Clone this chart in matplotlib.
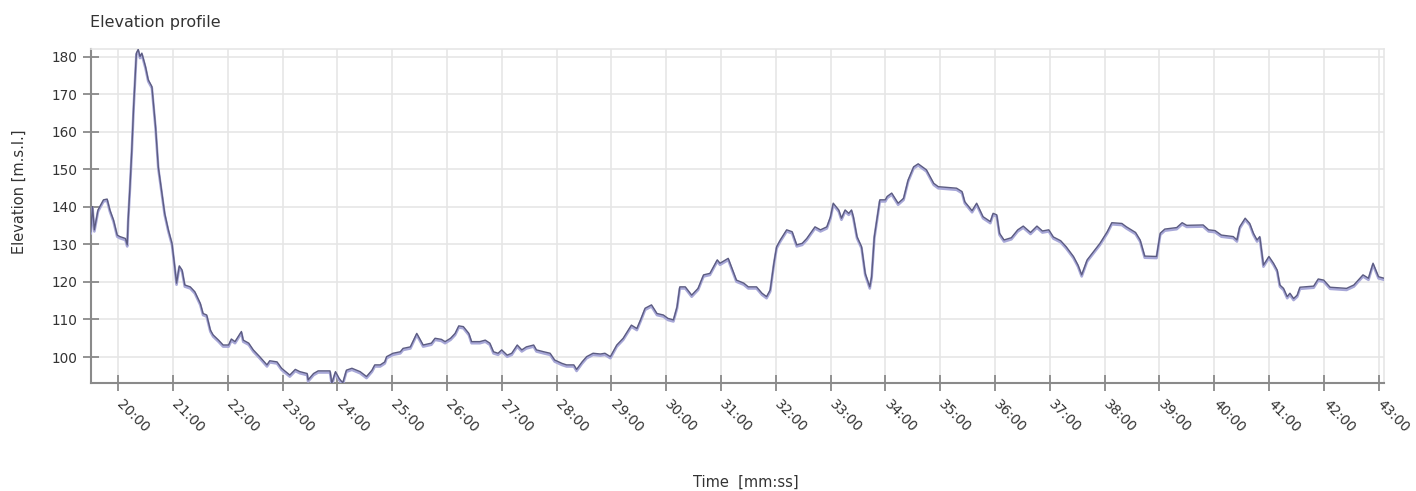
import matplotlib
matplotlib.use("Agg")
import matplotlib.pyplot as plt
import matplotlib.transforms as mtransforms
from matplotlib.ticker import MultipleLocator, FuncFormatter

plt.rcParams['font.family'] = ['DejaVu Sans']

# Elapsed time (seconds) and elevation (m above sea level)
time_s = [
    1170, 1172, 1174, 1178, 1184, 1188, 1191, 1195, 1199, 1202, 1208, 1210,
    1211, 1213, 1215, 1217, 1219, 1220, 1222, 1224, 1226, 1230, 1233, 1237,
    1241, 1244, 1248, 1251, 1255, 1259, 1262, 1264, 1267, 1270, 1273, 1279,
    1284, 1290, 1293, 1297, 1301, 1304, 1310, 1315, 1321, 1324, 1328, 1335,
    1337, 1343, 1348, 1355, 1363, 1366, 1374, 1379, 1388, 1394, 1399, 1407,
    1408, 1414, 1419, 1432, 1434, 1438, 1442, 1446, 1450, 1456, 1465, 1472,
    1478, 1481, 1487, 1492, 1494, 1501, 1509, 1512, 1520, 1527, 1534, 1543,
    1547, 1554, 1558, 1564, 1569, 1573, 1578, 1584, 1587, 1596, 1602, 1607,
    1611, 1616, 1620, 1626, 1631, 1637, 1642, 1647, 1655, 1658, 1666, 1673,
    1678, 1686, 1691, 1699, 1702, 1708, 1713, 1720, 1728, 1733, 1739, 1746,
    1753, 1762, 1768, 1772, 1777, 1784, 1790, 1797, 1802, 1808, 1812, 1815,
    1821, 1828, 1835, 1841, 1848, 1856, 1859, 1868, 1877, 1885, 1890, 1899,
    1905, 1910, 1914, 1918, 1921, 1925, 1932, 1938, 1943, 1949, 1954, 1963,
    1969, 1976, 1980, 1983, 1989, 1992, 1996, 2000, 2003, 2005, 2009, 2014,
    2018, 2023, 2025, 2028, 2034, 2040, 2042, 2047, 2054, 2060, 2065, 2071,
    2076, 2085, 2093, 2098, 2118, 2124, 2127, 2135, 2140, 2147, 2155, 2158,
    2162, 2165, 2170, 2178, 2185, 2191, 2199, 2206, 2212, 2219, 2224, 2232,
    2238, 2246, 2251, 2255, 2261, 2268, 2275, 2283, 2288, 2299, 2304, 2314,
    2319, 2324, 2337, 2341, 2346, 2359, 2365, 2370, 2388, 2394, 2401, 2408,
    2421, 2425, 2428, 2434, 2439, 2443, 2447, 2450, 2454, 2460, 2465, 2469,
    2472, 2476, 2480, 2483, 2487, 2491, 2494, 2509, 2514, 2520, 2527, 2545,
    2553, 2563, 2569, 2574, 2580, 2586,
]

elevation_m = [
    133.4, 140.1, 133.9, 139.2, 141.9, 142.1, 139.2, 136.5, 132.5, 132.1, 131.6, 129.9,
    136.5, 145.4, 155.2, 166.7, 176.5, 181.0, 182.0, 180.1, 181.0, 177.4, 173.9, 172.1,
    161.4, 150.7, 143.7, 138.3, 133.9, 130.3, 124.1, 119.7, 124.3, 123.2, 119.2, 118.7,
    117.4, 114.3, 111.6, 111.2, 107.2, 105.9, 104.5, 103.2, 103.2, 104.8, 104.1, 106.8,
    104.5, 103.7, 101.9, 100.1, 97.9, 99.0, 98.7, 97.0, 95.2, 96.7, 96.1, 95.6,
    93.9, 95.6, 96.3, 96.3, 93.0, 96.1, 94.3, 93.1, 96.5, 97.0, 96.1, 94.8,
    96.5, 97.9, 97.9, 98.7, 100.1, 101.0, 101.4, 102.3, 102.7, 106.3, 103.2, 103.7,
    105.0, 104.7, 104.1, 105.0, 106.3, 108.3, 108.1, 106.3, 104.1, 104.1, 104.5, 103.7,
    101.4, 101.0, 101.9, 100.5, 101.0, 103.2, 101.9, 102.7, 103.2, 101.9, 101.4, 101.0,
    99.2, 98.3, 97.9, 97.9, 96.7, 98.7, 100.1, 101.0, 100.8, 101.0, 100.1, 103.2,
    105.0, 108.5, 107.6, 109.9, 113.0, 113.9, 111.6, 111.2, 110.3, 109.9, 113.4, 118.7,
    118.7, 116.5, 118.3, 121.9, 122.3, 125.9, 125.0, 126.3, 120.5, 119.7, 118.7, 118.7,
    117.0, 116.1, 117.9, 125.0, 129.4, 131.2, 133.9, 133.4, 129.9, 130.3, 131.6, 134.7,
    133.9, 134.7, 137.4, 141.0, 139.2, 137.0, 139.2, 138.3, 139.2, 137.4, 132.1, 129.4,
    122.3, 118.7, 121.4, 132.1, 141.9, 141.9, 142.8, 143.7, 141.0, 142.3, 147.2, 150.7,
    151.5, 149.9, 146.3, 145.4, 145.0, 144.1, 141.4, 139.0, 141.0, 137.4, 136.1, 138.3,
    137.9, 133.0, 131.2, 131.8, 133.9, 134.9, 133.2, 134.9, 133.6, 133.9, 132.0, 131.0,
    129.4, 126.8, 124.5, 121.9, 125.9, 128.1, 130.3, 133.4, 135.8, 135.6, 134.7, 133.2,
    131.2, 126.9, 126.8, 133.0, 134.1, 134.5, 135.8, 135.1, 135.2, 133.9, 133.7, 132.5,
    132.1, 131.2, 134.7, 137.0, 135.6, 133.0, 131.2, 132.1, 124.5, 126.8, 125.0, 123.2,
    119.2, 118.3, 116.1, 117.0, 115.6, 116.5, 118.6, 118.9, 120.8, 120.5, 118.6, 118.3,
    119.2, 121.9, 121.0, 125.0, 121.4, 121.0,
]

time_limits = (1170, 2586)
elev_limits = (93.07, 182.1)
elev_ticks = [100, 110, 120, 130, 140, 150, 160, 170, 180]

W, H, DPI = 1416, 491, 100
fig = plt.figure(figsize=(W / DPI, H / DPI), dpi=DPI)
ax = fig.add_axes([90.7 / W, 1 - 383 / H, (1384 - 90.7) / W, (383 - 49) / H])

grid_col = '#e6e6e6'
axis_col = '#8a8a8a'
text_col = '#333333'

# soft shadow under the profile line, then the line itself
shadow = mtransforms.offset_copy(ax.transData, fig=fig, x=0, y=-1.6, units='dots')
ax.plot(time_s, elevation_m, color='#a8a8d8', lw=1.9, transform=shadow,
        solid_joinstyle='round', zorder=3)
ax.plot(time_s, elevation_m, color='#5c5c82', lw=1.0, solid_joinstyle='round',
        zorder=4)

ax.set_xlim(*time_limits)
ax.set_ylim(*elev_limits)
ax.set_yticks(elev_ticks)
ax.xaxis.set_major_locator(MultipleLocator(60))
ax.xaxis.set_major_formatter(
    FuncFormatter(lambda v, pos: f"{int(round(v)) // 60:02d}:{int(round(v)) % 60:02d}"))

ax.grid(True, color=grid_col, lw=1.2, zorder=0)
ax.set_axisbelow(True)
for side in ('top', 'right'):
    ax.spines[side].set_color(grid_col)
    ax.spines[side].set_linewidth(1.2)
for side in ('left', 'bottom'):
    ax.spines[side].set_color(axis_col)
    ax.spines[side].set_linewidth(1.5)

ax.tick_params(axis='both', direction='inout', length=11, width=1.3,
               color=axis_col, labelcolor=text_col)
ax.tick_params(axis='y', labelsize=9.8, pad=4)
ax.tick_params(axis='x', labelsize=10, pad=5)
label_shift = mtransforms.ScaledTranslation(6 / DPI, 0, fig.dpi_scale_trans)
for lbl in ax.get_xticklabels():
    lbl.set_rotation(-45)
    lbl.set_ha('left')
    lbl.set_va('top')
    lbl.set_rotation_mode('anchor')
    lbl.set_transform(lbl.get_transform() + label_shift)

fig.text(90 / W, 1 - 22 / H, 'Elevation profile', fontsize=11.5, color=text_col,
         ha='left', va='center')
fig.text(19.5 / W, 1 - 192 / H, 'Elevation [m.s.l.]', fontsize=10.5, color=text_col,
         rotation=90, ha='center', va='center')
fig.text(746 / W, 1 - 482 / H, 'Time  [mm:ss]', fontsize=10.5, color=text_col,
         ha='center', va='center')

fig.savefig('out.png', dpi=DPI, facecolor='white')
